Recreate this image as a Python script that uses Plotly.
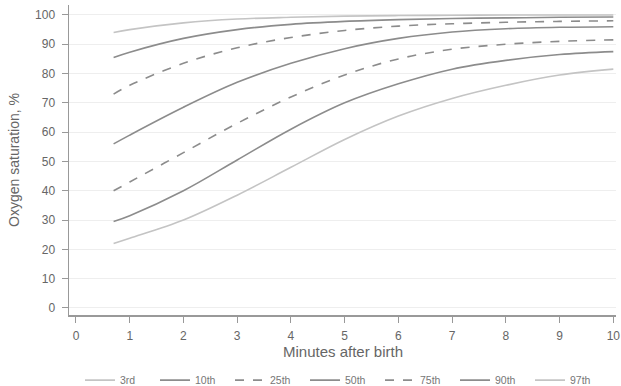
import plotly.graph_objects as go

minutes = [0.7, 1, 2, 3, 4, 5, 6, 7, 8, 9, 10]
p3 = [22, 23.8, 30, 38.5, 48, 57.5, 65.5, 71.5, 76, 79.5, 81.5]
p10 = [29.5, 31.5, 40, 50.5, 61, 70, 76.5, 81.5, 84.5, 86.5, 87.5]
p25 = [40, 43, 53, 63, 72, 79.5, 85, 88.3, 90, 91, 91.5]
p50 = [56, 59, 68.5, 77, 83.5, 88.5, 92, 94.2, 95.3, 95.8, 96]
p75 = [73, 76, 83.5, 88.8, 92.3, 94.7, 96.2, 97, 97.5, 97.8, 98]
p90 = [85.5, 87.3, 92, 95, 96.8, 97.8, 98.4, 98.8, 99, 99.2, 99.3]
p97 = [94, 95, 97.3, 98.6, 99.2, 99.6, 99.8, 99.9, 100, 100, 100]

names = ["3rd", "10th", "25th", "50th", "75th", "90th", "97th"]
series = [p3, p10, p25, p50, p75, p90, p97]
colors = ["#c4c4c4", "#8c8c8c", "#8c8c8c", "#8c8c8c", "#8c8c8c", "#8c8c8c", "#c4c4c4"]
dashes = ["solid", "solid", "dash", "solid", "dash", "solid", "solid"]

fig = go.Figure()
for n, s, c, d in zip(names, series, colors, dashes):
    fig.add_trace(go.Scatter(x=minutes, y=s, name=n, mode="lines",
                             line=dict(color=c, width=1.6, dash=d, shape="spline", smoothing=1.0)))

fig.update_layout(
    width=621, height=386,
    margin=dict(l=69, r=5, t=5, b=71, autoexpand=False),
    paper_bgcolor="white", plot_bgcolor="white",
    font=dict(family="Liberation Sans, Arial, sans-serif", color="#666666", size=12),
    showlegend=True,
    legend=dict(orientation="h", x=0.5, xanchor="center", y=-0.21, yanchor="middle",
                font=dict(size=10.5, color="#777777"), itemwidth=30, entrywidth=30),
    xaxis=dict(range=[-0.13, 10.05], tickmode="array", tickvals=list(range(11)),
               showgrid=False, zeroline=False, showline=True, linecolor="#999999", linewidth=1.5,
               ticks="outside", ticklen=6, tickcolor="#999999", ticklabelstandoff=3),
    yaxis=dict(range=[-2.4, 103.4], tickmode="array", tickvals=list(range(0, 101, 10)),
               showgrid=True, gridcolor="#eeeeee", zeroline=False, showline=True,
               linecolor="#999999", linewidth=1.5, ticks="outside", ticklen=6, tickcolor="#999999",
               ticklabelstandoff=4,
               title=dict(text="Oxygen saturation, %", font=dict(size=14, color="#666666"), standoff=12)),
    annotations=[dict(text="Minutes after birth", xref="paper", yref="paper", x=0.5, y=-0.119,
                      xanchor="center", yanchor="middle", showarrow=False,
                      font=dict(size=15, color="#666666"))],
)

fig.write_html("out.html",
               config={"displayModeBar": False, "staticPlot": True},
               post_script="document.body.style.margin='0';document.body.style.padding='0';"
                           "document.body.style.overflow='hidden';")
